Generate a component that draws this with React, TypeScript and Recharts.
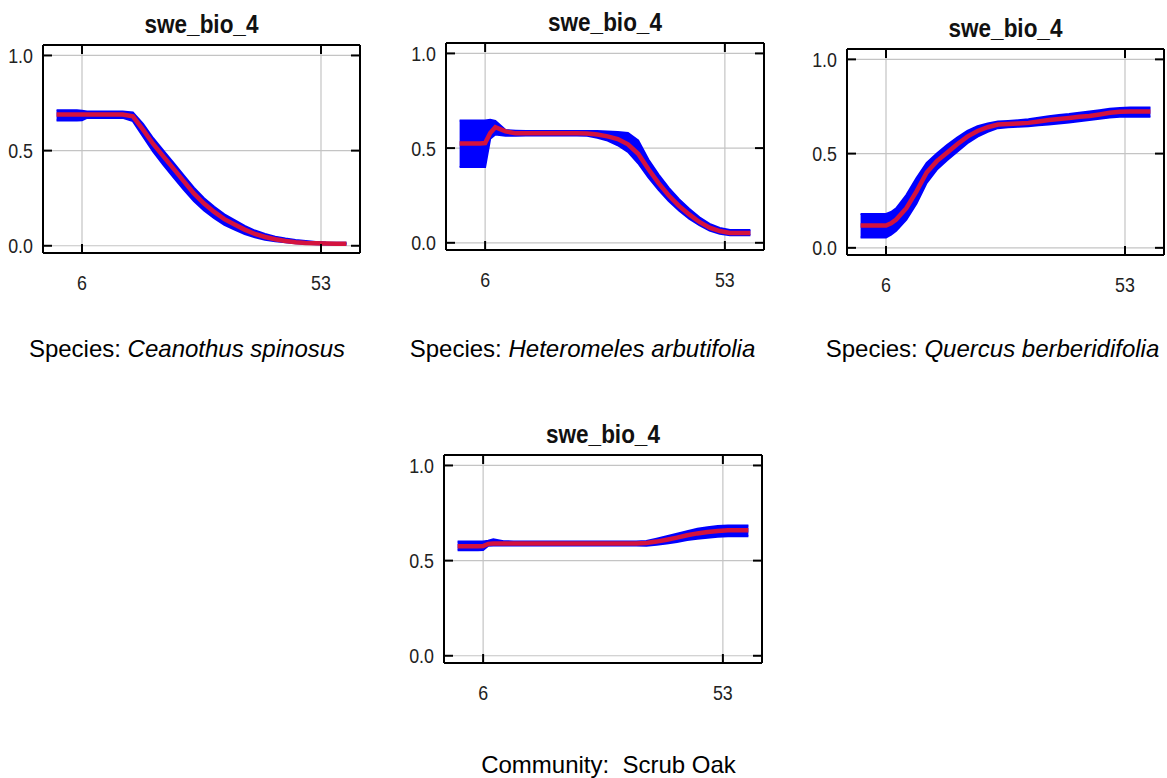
import { ComposedChart, Area, Line, XAxis, YAxis, CartesianGrid } from "recharts";

// x positions shared by every panel
const xs = [1, 3, 5, 6, 7, 8, 10, 12, 14, 16, 18, 20, 22, 24, 26, 28, 30, 32, 34, 36, 38, 40, 42, 44, 46, 48, 50, 52, 54, 56, 58];
const xTicks = [6, 53];
const yTicks = [0, 0.5, 1];

// Ceanothus spinosus
const ceanMean = [0.69, 0.69, 0.69, 0.69, 0.69, 0.69, 0.69, 0.69, 0.69, 0.68, 0.61, 0.535, 0.47, 0.405, 0.34, 0.275, 0.222, 0.178, 0.14, 0.112, 0.085, 0.062, 0.046, 0.034, 0.025, 0.019, 0.015, 0.013, 0.012, 0.011, 0.011];
const ceanLo = [0.658, 0.658, 0.658, 0.66, 0.672, 0.672, 0.672, 0.672, 0.672, 0.655, 0.575, 0.495, 0.425, 0.36, 0.295, 0.235, 0.185, 0.145, 0.11, 0.085, 0.062, 0.045, 0.032, 0.024, 0.018, 0.013, 0.01, 0.008, 0.007, 0.007, 0.007];
const ceanHi = [0.712, 0.712, 0.712, 0.71, 0.705, 0.705, 0.705, 0.705, 0.705, 0.7, 0.64, 0.565, 0.5, 0.435, 0.37, 0.305, 0.25, 0.205, 0.165, 0.135, 0.105, 0.08, 0.062, 0.048, 0.038, 0.03, 0.025, 0.02, 0.017, 0.016, 0.016];

// Heteromeles arbutifolia
const hetMean = [0.525, 0.525, 0.525, 0.527, 0.58, 0.61, 0.588, 0.578, 0.578, 0.578, 0.578, 0.578, 0.578, 0.578, 0.577, 0.572, 0.562, 0.548, 0.52, 0.47, 0.39, 0.315, 0.25, 0.195, 0.15, 0.11, 0.08, 0.062, 0.052, 0.052, 0.052];
const hetLo = [0.4, 0.4, 0.4, 0.4, 0.55, 0.572, 0.565, 0.565, 0.566, 0.566, 0.566, 0.566, 0.566, 0.566, 0.565, 0.555, 0.54, 0.515, 0.48, 0.42, 0.345, 0.28, 0.22, 0.17, 0.128, 0.093, 0.065, 0.048, 0.04, 0.04, 0.04];
const hetHi = [0.646, 0.646, 0.646, 0.646, 0.65, 0.643, 0.595, 0.592, 0.59, 0.59, 0.59, 0.59, 0.59, 0.59, 0.59, 0.59, 0.588, 0.585, 0.58, 0.54, 0.44, 0.36, 0.29, 0.23, 0.18, 0.135, 0.1, 0.078, 0.068, 0.068, 0.068];

// Quercus berberidifolia
const querMean = [0.118, 0.118, 0.118, 0.118, 0.13, 0.15, 0.21, 0.3, 0.4, 0.46, 0.505, 0.55, 0.59, 0.62, 0.64, 0.654, 0.657, 0.66, 0.663, 0.67, 0.678, 0.684, 0.689, 0.695, 0.7, 0.708, 0.717, 0.722, 0.724, 0.724, 0.724];
const querLo = [0.055, 0.055, 0.055, 0.055, 0.07, 0.09, 0.15, 0.235, 0.345, 0.415, 0.465, 0.51, 0.555, 0.59, 0.615, 0.635, 0.64, 0.643, 0.645, 0.65, 0.655, 0.66, 0.665, 0.672, 0.678, 0.685, 0.692, 0.695, 0.695, 0.695, 0.695];
const querHi = [0.18, 0.18, 0.18, 0.18, 0.19, 0.21, 0.28, 0.37, 0.45, 0.5, 0.545, 0.585, 0.62, 0.645, 0.66, 0.67, 0.673, 0.677, 0.682, 0.69, 0.698, 0.705, 0.71, 0.717, 0.723, 0.73, 0.738, 0.742, 0.745, 0.745, 0.745];

// Community: Scrub Oak
const commMean = [0.575, 0.575, 0.575, 0.577, 0.588, 0.59, 0.59, 0.59, 0.59, 0.59, 0.59, 0.59, 0.59, 0.59, 0.59, 0.59, 0.59, 0.59, 0.59, 0.59, 0.593, 0.6, 0.61, 0.621, 0.633, 0.643, 0.65, 0.656, 0.659, 0.659, 0.659];
const commLo = [0.555, 0.555, 0.555, 0.556, 0.578, 0.579, 0.579, 0.579, 0.579, 0.579, 0.579, 0.579, 0.579, 0.579, 0.579, 0.579, 0.579, 0.579, 0.579, 0.579, 0.578, 0.583, 0.59, 0.598, 0.608, 0.615, 0.62, 0.625, 0.628, 0.628, 0.628];
const commHi = [0.6, 0.6, 0.6, 0.6, 0.605, 0.612, 0.602, 0.601, 0.601, 0.601, 0.601, 0.601, 0.601, 0.601, 0.601, 0.601, 0.601, 0.601, 0.601, 0.601, 0.603, 0.615, 0.628, 0.642, 0.655, 0.667, 0.676, 0.682, 0.685, 0.685, 0.685];

const xDomain = [-1.67, 60.67];
const yDomain = [-0.038, 1.055];

const FONT = "'Liberation Sans', Arial, Helvetica, sans-serif";

const axisLine = { stroke: "#000", strokeWidth: 2 };
const tickLine = { stroke: "#000", strokeWidth: 2 };
const blank = () => "";

// narrow-looking tick labels, like the original's condensed font
function XTick(props: any) {
    const { x, y, payload } = props;
    return (
        <text
            transform={`translate(${x},${y + 15}) scale(0.85,1)`}
            textAnchor="middle"
            fontSize={21}
            fontFamily={FONT}
            fill="#222"
        >
            {payload.value}
        </text>
    );
}

function YTick(props: any) {
    const { x, y, payload } = props;
    return (
        <text
            transform={`translate(${x},${y + 7.5}) scale(0.85,1)`}
            textAnchor="end"
            fontSize={21}
            fontFamily={FONT}
            fill="#222"
        >
            {Number(payload.value).toFixed(1)}
        </text>
    );
}

type Box = { x: number; y: number; w: number; h: number };

function Panel({ box, mean, lo, hi }: { box: Box; mean: number[]; lo: number[]; hi: number[] }) {
    const data = xs.map((x, i) => ({ x, mean: mean[i], band: [lo[i], hi[i]] }));
    return (
        <div style={{ position: "absolute", left: box.x - 45, top: box.y - 45 }}>
            <ComposedChart
                width={box.w + 50}
                height={box.h + 90}
                data={data}
                margin={{ top: 44, right: 4, bottom: 0, left: 0 }}
            >
                <CartesianGrid stroke="#c4c4c4" strokeWidth={1.2} />
                <XAxis
                    dataKey="x"
                    type="number"
                    domain={xDomain}
                    ticks={xTicks}
                    interval={0}
                    allowDataOverflow
                    height={45}
                    tickSize={-9}
                    tickMargin={31}
                    axisLine={axisLine}
                    tickLine={tickLine}
                    tick={<XTick />}
                />
                <XAxis
                    xAxisId="top"
                    orientation="top"
                    dataKey="x"
                    type="number"
                    domain={xDomain}
                    ticks={xTicks}
                    interval={0}
                    allowDataOverflow
                    height={1}
                    tickSize={-9}
                    axisLine={axisLine}
                    tickLine={tickLine}
                    tickFormatter={blank}
                />
                <YAxis
                    type="number"
                    domain={yDomain}
                    ticks={yTicks}
                    interval={0}
                    allowDataOverflow
                    width={45}
                    tickSize={-9}
                    tickMargin={19}
                    axisLine={axisLine}
                    tickLine={tickLine}
                    tick={<YTick />}
                />
                <YAxis
                    yAxisId="right"
                    orientation="right"
                    type="number"
                    domain={yDomain}
                    ticks={yTicks}
                    interval={0}
                    allowDataOverflow
                    width={1}
                    tickSize={-9}
                    axisLine={axisLine}
                    tickLine={tickLine}
                    tickFormatter={blank}
                />
                <Area
                    dataKey="band"
                    type="linear"
                    fill="#0000ff"
                    fillOpacity={1}
                    stroke="#0000ff"
                    strokeWidth={2}
                    dot={false}
                    activeDot={false}
                    isAnimationActive={false}
                />
                <Line
                    dataKey="mean"
                    type="linear"
                    stroke="#d4123e"
                    strokeWidth={4.5}
                    dot={false}
                    activeDot={false}
                    isAnimationActive={false}
                />
            </ComposedChart>
        </div>
    );
}

function Title({ box }: { box: Box }) {
    return (
        <div
            style={{
                position: "absolute",
                left: box.x,
                width: box.w,
                top: box.y - 12 - 21.2,
                textAlign: "center",
                fontFamily: FONT,
                fontWeight: "bold",
                fontSize: 25,
                lineHeight: "25px",
                transform: "scaleX(0.9)",
                color: "#111",
            }}
        >
            swe_bio_4
        </div>
    );
}

function Caption({ cx, baseline, children }: { cx: number; baseline: number; children: any }) {
    return (
        <div
            style={{
                position: "absolute",
                left: cx - 300,
                width: 600,
                top: baseline - 20.3,
                textAlign: "center",
                fontFamily: FONT,
                fontSize: 24,
                lineHeight: "24px",
                whiteSpace: "pre",
                color: "#000",
            }}
        >
            {children}
        </div>
    );
}

const box1 = { x: 43, y: 45, w: 317, h: 208 };
const box2 = { x: 446, y: 43, w: 318, h: 207 };
const box3 = { x: 847, y: 49, w: 317, h: 206 };
const box4 = { x: 444, y: 455, w: 318, h: 208 };

export default function App() {
    return (
        <div
            style={{
                position: "absolute",
                left: 0,
                top: 0,
                width: 1167,
                height: 778,
                background: "#fff",
                overflow: "hidden",
            }}
        >
            <Title box={box1} />
            <Title box={box2} />
            <Title box={box3} />
            <Title box={box4} />
            <Panel box={box1} mean={ceanMean} lo={ceanLo} hi={ceanHi} />
            <Panel box={box2} mean={hetMean} lo={hetLo} hi={hetHi} />
            <Panel box={box3} mean={querMean} lo={querLo} hi={querHi} />
            <Panel box={box4} mean={commMean} lo={commLo} hi={commHi} />
            <Caption cx={187} baseline={357}>
                Species: <i>Ceanothus spinosus</i>
            </Caption>
            <Caption cx={582.5} baseline={357}>
                Species: <i>Heteromeles arbutifolia</i>
            </Caption>
            <Caption cx={992.5} baseline={357}>
                Species: <i>Quercus berberidifolia</i>
            </Caption>
            <Caption cx={608.5} baseline={773}>
                {"Community:  Scrub Oak"}
            </Caption>
        </div>
    );
}
